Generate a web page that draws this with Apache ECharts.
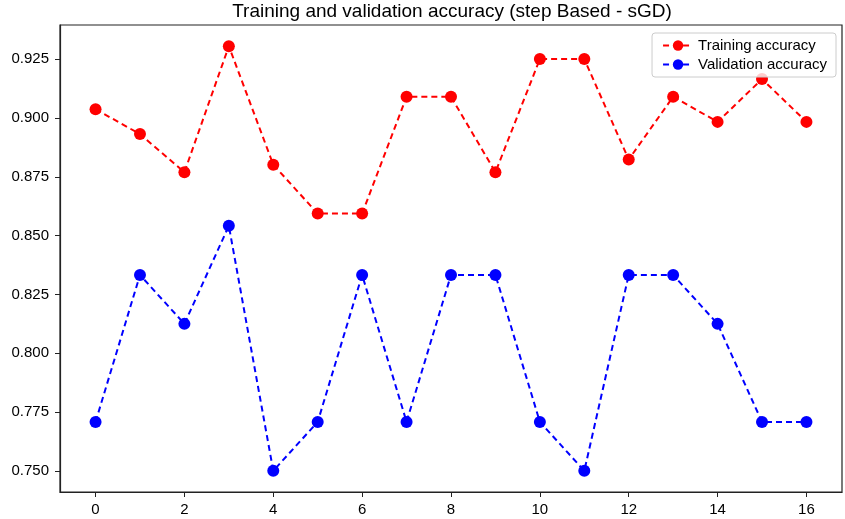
<!DOCTYPE html>
<html>
<head>
<meta charset="utf-8">
<script src="https://cdn.jsdelivr.net/npm/echarts@6/dist/echarts.min.js"></script>
<style>
  html, body { margin: 0; padding: 0; background: #fff; }
  #chart { width: 845px; height: 519px; }
</style>
</head>
<body>
<div id="chart"></div>
<script>
// data
var steps = [0, 1, 2, 3, 4, 5, 6, 7, 8, 9, 10, 11, 12, 13, 14, 15, 16];
var trainAcc = [0.9038, 0.8932, 0.8770, 0.9306, 0.8802, 0.8594, 0.8594, 0.9091, 0.9091, 0.8770,
                0.9251, 0.9251, 0.8824, 0.9091, 0.8984, 0.9166, 0.8984];
var valAcc = [0.7708, 0.8333, 0.8125, 0.8542, 0.7500, 0.7708, 0.8333, 0.7708, 0.8333, 0.8333,
              0.7708, 0.7500, 0.8333, 0.8333, 0.8125, 0.7708, 0.7708];
var xTicks = [0, 2, 4, 6, 8, 10, 12, 14, 16];
var yTicks = [0.750, 0.775, 0.800, 0.825, 0.850, 0.875, 0.900, 0.925];

function pairs(ys) {
    var out = [];
    for (var i = 0; i < steps.length; i++) {
        out.push([steps[i], ys[i]]);
    }
    return out;
}

var font = 'Liberation Sans';
var myChart = echarts.init(document.getElementById('chart'));

function lineSeries(name, color, ys) {
    return {
        name: name,
        type: 'line',
        data: pairs(ys),
        symbol: 'circle',
        symbolSize: 12,
        itemStyle: { color: color },
        lineStyle: { color: color, width: 2, type: [6, 4] },
        emphasis: { disabled: true },
        animation: false
    };
}

var option = {
    backgroundColor: '#fff',
    title: {
        text: 'Training and validation accuracy (step Based - sGD)',
        left: 452,
        textAlign: 'center',
        top: 2,
        padding: 0,
        textStyle: { fontFamily: font, fontSize: 19, fontWeight: 'normal', color: '#000' }
    },
    legend: {
        right: 9,
        top: 33,
        orient: 'vertical',
        itemGap: 4,
        itemWidth: 30,
        itemHeight: 13,
        padding: [5, 9, 5, 10],
        borderColor: '#cccccc',
        borderWidth: 1,
        borderRadius: 3,
        backgroundColor: 'rgba(255,255,255,0.8)',
        textStyle: { fontFamily: font, fontSize: 15, color: '#000' },
        data: ['Training accuracy', 'Validation accuracy']
    },
    grid: {
        left: 60,
        right: 3,
        top: 25,
        bottom: 27,
        show: true,
        borderColor: '#222',
        borderWidth: 1.2
    },
    xAxis: {
        type: 'value',
        min: -0.8,
        max: 16.8,
        splitLine: { show: false },
        axisLine: { onZero: false, lineStyle: { color: '#222', width: 1.2 } },
        axisTick: { show: true, length: 5, lineStyle: { color: '#222' }, customValues: xTicks },
        axisLabel: { fontFamily: font, fontSize: 15, color: '#000', margin: 10, customValues: xTicks }
    },
    yAxis: {
        type: 'value',
        min: 0.741,
        max: 0.9396,
        splitLine: { show: false },
        axisLine: { show: true, onZero: false, lineStyle: { color: '#222', width: 1.2 } },
        axisTick: { show: true, length: 5, lineStyle: { color: '#222' }, customValues: yTicks },
        axisLabel: {
            fontFamily: font, fontSize: 15, color: '#000', margin: 11,
            customValues: yTicks,
            formatter: function (v) { return v.toFixed(3); }
        }
    },
    series: [
        lineSeries('Training accuracy', '#ff0000', trainAcc),
        lineSeries('Validation accuracy', '#0000ff', valAcc)
    ]
};

myChart.setOption(option);
</script>
</body>
</html>
